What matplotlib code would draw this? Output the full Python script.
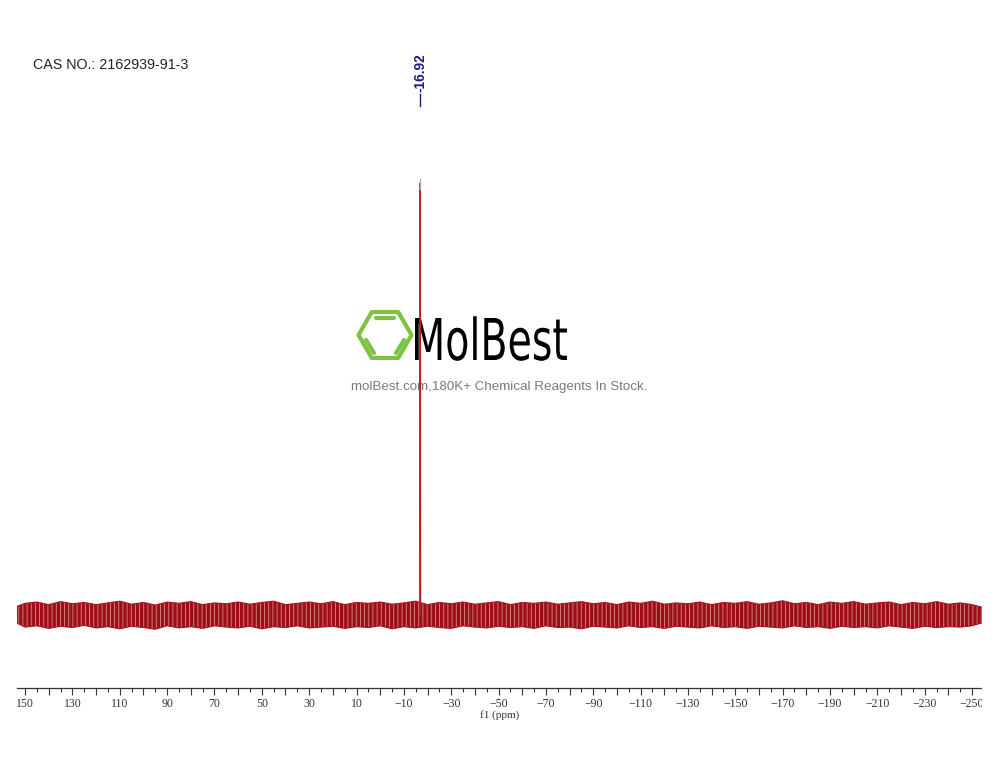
import numpy as np
import matplotlib
matplotlib.use("Agg")
import matplotlib.pyplot as plt
from matplotlib.ticker import MultipleLocator, FuncFormatter
from matplotlib.textpath import TextPath
from matplotlib.patches import PathPatch, RegularPolygon, Rectangle
from matplotlib.font_manager import FontProperties
from matplotlib.transforms import Affine2D, blended_transform_factory

# ---------------- data ----------------
cas_text = "CAS NO.: 2162939-91-3"
peak_label = "-16.92"
peak_ppm = [-16.80, -16.92, -17.04]
peak_intensity = [0.0, 1.0, 0.0]

# noise envelope of the baseline (every 5 ppm)
env_ppm = [153.4] + list(range(150, -255, -5)) + [-254.2]
env_upper = [0.020, 0.027, 0.030, 0.024, 0.031, 0.026, 0.029, 0.024, 0.028, 0.032,
             0.025, 0.029, 0.023, 0.030, 0.027, 0.031, 0.024, 0.028, 0.026, 0.030,
             0.025, 0.029, 0.032, 0.024, 0.027, 0.030, 0.026, 0.031, 0.024, 0.029,
             0.027, 0.030, 0.025, 0.028, 0.032, 0.024, 0.029, 0.026, 0.030, 0.025,
             0.028, 0.031, 0.024, 0.029, 0.027, 0.030, 0.025, 0.028, 0.031, 0.026,
             0.029, 0.024, 0.030, 0.027, 0.032, 0.025, 0.028, 0.026, 0.030, 0.024,
             0.029, 0.027, 0.031, 0.025, 0.028, 0.033, 0.026, 0.029, 0.024, 0.030,
             0.027, 0.031, 0.025, 0.028, 0.030, 0.024, 0.029, 0.026, 0.031, 0.025,
             0.028, 0.024, 0.018]
env_lower = [-0.019, -0.028, -0.025, -0.031, -0.026, -0.029, -0.024, -0.030, -0.027, -0.032,
             -0.026, -0.029, -0.033, -0.025, -0.030, -0.027, -0.031, -0.025, -0.028, -0.030,
             -0.026, -0.032, -0.027, -0.029, -0.025, -0.030, -0.028, -0.026, -0.031, -0.027,
             -0.029, -0.025, -0.032, -0.027, -0.030, -0.026, -0.029, -0.031, -0.025, -0.028,
             -0.030, -0.026, -0.029, -0.027, -0.031, -0.025, -0.029, -0.028, -0.032, -0.026,
             -0.028, -0.030, -0.025, -0.029, -0.027, -0.031, -0.026, -0.028, -0.030, -0.025,
             -0.029, -0.027, -0.031, -0.026, -0.028, -0.030, -0.025, -0.029, -0.027, -0.031,
             -0.026, -0.029, -0.027, -0.030, -0.025, -0.028, -0.031, -0.026, -0.029, -0.027,
             -0.028, -0.025, -0.018]

x_left, x_right = 153.4, -254.2
label_start, label_step = 150, 20

# ---------------- figure ----------------
W, H = 1000, 773
fig = plt.figure(figsize=(W / 100, H / 100), dpi=100)
plt.rcParams['hatch.linewidth'] = 0.55

# overlay for decorations (pixel coordinates)
ov = fig.add_axes([0, 0, 1, 1], zorder=0)
ov.set_xlim(0, W)
ov.set_ylim(H, 0)
ov.axis("off")

# data axes
ax_bottom_px, ax_top_px = 688, 40
ax = fig.add_axes([17 / W, 1 - ax_bottom_px / H, (982 - 17) / W, (ax_bottom_px - ax_top_px) / H], zorder=1)
ax.patch.set_alpha(0)
ppx = 432.0  # pixels per intensity unit
ax.set_ylim(-(ax_bottom_px - 615) / ppx, (615 - ax_top_px) / ppx)
ax.set_xlim(x_left, x_right)

# noise band
ax.fill_between(env_ppm, env_lower, env_upper, facecolor="#9c0f18", edgecolor="#e39393",
                hatch="||||", linewidth=0, zorder=2)
ax.plot(env_ppm, env_upper, color="#a8141c", lw=0.8, zorder=3)
ax.plot(env_ppm, env_lower, color="#a8141c", lw=0.8, zorder=3)
# peak
ax.plot(peak_ppm, peak_intensity, color="#b22020", lw=1.0, zorder=4)
ax.plot([peak_ppm[1], peak_ppm[1]], [0.985, 1.01], color="#b8a8c8", lw=1.0, zorder=4)

# peak label
tr = blended_transform_factory(ax.transData, fig.transFigure)
ax.plot([peak_ppm[1], peak_ppm[1]], [1 - 106 / H, 1 - 94 / H], color="#1a1a8c", lw=1.0,
        transform=tr, clip_on=False)
ax.text(peak_ppm[1], 1 - 92 / H, peak_label, rotation=90, ha="center", va="bottom",
        color="#1a1a8c", fontsize=9.8, fontweight="bold", family="Liberation Sans",
        transform=tr)

# axes styling
for s in ["top", "left", "right"]:
    ax.spines[s].set_visible(False)
ax.spines["bottom"].set_color("#333333")
ax.spines["bottom"].set_linewidth(0.9)
ax.set_yticks([])
ax.xaxis.set_major_locator(MultipleLocator(10))
ax.xaxis.set_minor_locator(MultipleLocator(5))

def fmt(v, pos):
    iv = int(round(v))
    if (iv - label_start) % label_step == 0:
        return f"{iv}".replace("-", "\u2212")
    return ""

ax.xaxis.set_major_formatter(FuncFormatter(fmt))
ax.tick_params(axis="x", which="major", direction="out", length=5, width=0.8, color="#333333",
               pad=2, labelsize=8.5, labelcolor="#333333")
ax.tick_params(axis="x", which="minor", direction="out", length=3, width=0.8, color="#333333")
for lbl in ax.get_xticklabels():
    lbl.set_family("Liberation Serif")
ax.set_xlabel("f1 (ppm)", fontsize=8, family="Liberation Serif", labelpad=0.3, color="#333333")

# crop at right edge of the axis (reference is cut at the spectrum end)
fig.add_artist(Rectangle((982 / W, 0), (W - 982) / W, 1, transform=fig.transFigure,
                         facecolor="white", edgecolor="none", zorder=10))

# CAS text
ov.text(33, 65, cas_text, fontsize=10.3, family="Liberation Sans", color="#222222",
        ha="left", va="center")

# logo hexagon
green = "#7dc242"
hexa = RegularPolygon((385, 335), numVertices=6, radius=26.5, orientation=np.pi / 6,
                      facecolor="none", edgecolor=green, lw=3.0, joinstyle="round")
ov.add_patch(hexa)
ov.plot([376, 394], [318, 318], color=green, lw=3.0, solid_capstyle="round")
ov.plot([366, 374], [340, 353], color=green, lw=3.0, solid_capstyle="round")
ov.plot([404, 396], [340, 353], color=green, lw=3.0, solid_capstyle="round")

# MolBest word, condensed
fp = FontProperties(family="DejaVu Sans", weight="normal")
tp = TextPath((0, 0), "MolBest", size=1, prop=fp)
ext = tp.get_extents()
cap = TextPath((0, 0), "M", size=1, prop=fp).get_extents().height
sx = 152 / ext.width
sy = 42 / cap
trans = Affine2D().translate(-ext.x0, 0).scale(sx, -sy).translate(415, 360)
ov.add_patch(PathPatch(trans.transform_path(tp), facecolor="black", edgecolor="none"))

ov.text(499, 387, "molBest.com,180K+ Chemical Reagents In Stock.", fontsize=9.6,
        family="Liberation Sans", color="#7a7a7a", ha="center", va="center")

fig.savefig("out.png", dpi=100)
